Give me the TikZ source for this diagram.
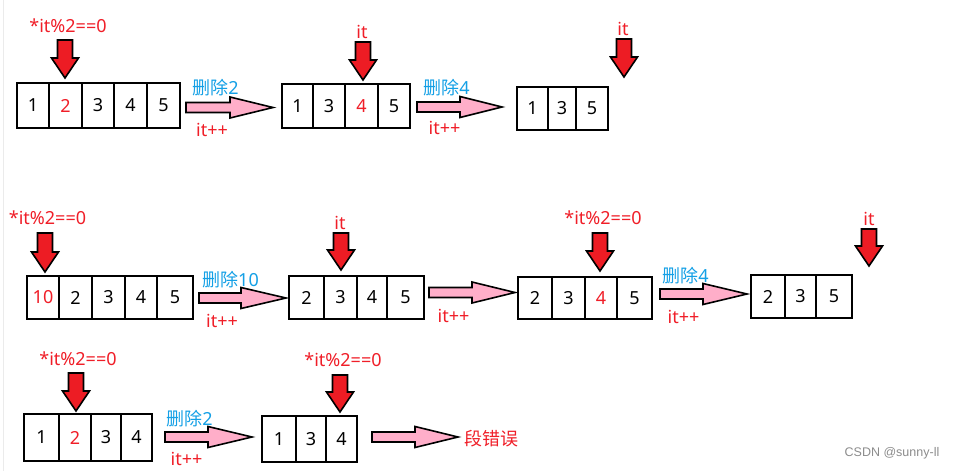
\documentclass[tikz,border=0pt]{standalone}
\usepackage{fontspec}
\setmainfont{Noto Sans}
\newfontfamily\cjk{Noto Sans CJK SC}
\newfontfamily\wmfont{Liberation Sans}
\usetikzlibrary{fit}
\definecolor{redc}{RGB}{237,28,36}
\definecolor{txtred}{RGB}{240,30,40}
\definecolor{bluec}{RGB}{20,160,230}
\definecolor{pinkc}{RGB}{255,174,201}
\tikzset{
  cellbox/.style={draw=black, line width=1.8pt, inner sep=0pt, font=\fontsize{18}{20}\selectfont},
  redarr/.style={draw=black, line width=1.6pt, fill=redc, line join=miter},
  pinkarr/.style={draw=black, line width=1.6pt, fill=pinkc, line join=miter},
  redlbl/.style={text=txtred, inner sep=0pt, font=\fontsize{18}{20}\selectfont},
  bluelbl/.style={text=bluec, inner sep=0pt, font=\fontsize{18}{20}\selectfont},
}
\newcommand\cellrow[4]{%
  \foreach \xl/\xr/\v [count=\i] in {#4} {
    \node[cellbox, fit={(\xl,#2)(\xr,#3)}] (#1-\i) {};
    \node[font=\fontsize{18}{20}\selectfont, inner sep=0pt] at (#1-\i.center) {\v};
  }%
}
\newcommand\downarr[4]{% name, tip x, top y, tip y
  \draw[redarr] (#2-7.5,#3) -- (#2+7.5,#3) -- (#2+7.5,#4-20) -- (#2+13.5,#4-20)
    -- (#2,#4) -- (#2-13.5,#4-20) -- (#2-7.5,#4-20) -- cycle;
  \coordinate (#1) at (#2,#4);
}
\newcommand\rightarr[5]{% name, x0, xhead, xtip, yc
  \draw[pinkarr] (#2,#5-5) -- (#3,#5-5) -- (#3,#5-10.5) -- (#4,#5)
    -- (#3,#5+10.5) -- (#3,#5+5) -- (#2,#5+5) -- cycle;
  \coordinate (#1) at (#4,#5);
}
\begin{document}
\begin{tikzpicture}[x=1pt,y=-1pt]
\useasboundingbox (0,0) rectangle (956,471);
\fill[white] (0,0) rectangle (956,471);
\draw[black!8, line width=1pt] (3,0) -- (3,471);

% ---------- Row 1 ----------
\node[redlbl] (l1) at (68,26) {*it\%2==0};
\downarr{d1}{65}{40}{78}
\cellrow{a}{83}{128}{17/49/1, 49/82/{\textcolor{txtred}{2}}, 82/114/3, 114/147/4, 147/180/5}
\rightarr{p1}{186}{230}{273}{107.5}
\node[bluelbl] (b1) at (215.5,88) {{\cjk 删除}2};
\node[redlbl] (i1) at (212,130) {it++};

\node[redlbl] (l2) at (362,32) {it};
\downarr{d2}{363}{42}{80}
\cellrow{b}{84}{128}{282/313/1, 313/345/3, 345/378/{\textcolor{txtred}{4}}, 378/410/5}
\rightarr{p2}{417}{460}{502}{107}
\node[bluelbl] (b2) at (446.5,88) {{\cjk 删除}4};
\node[redlbl] (i2) at (444.5,128) {it++};

\cellrow{c}{87}{130}{517/548/1, 548/576/3, 576/608/5}
\node[redlbl] (l3) at (623,29) {it};
\downarr{d3}{624}{39}{77}

% ---------- Row 2 ----------
\node[redlbl] (l4) at (47.5,218) {*it\%2==0};
\downarr{d4}{45}{233}{272}
\cellrow{d}{276}{319}{27/59/{\textcolor{txtred}{10}}, 59/92/2, 92/125/3, 125/157/4, 157/193/5}
\rightarr{p3}{199}{241}{286}{298}
\node[bluelbl] (b3) at (230.5,280) {{\cjk 删除}10};
\node[redlbl] (i3) at (222,321) {it++};

\node[redlbl] (l5) at (340,223) {it};
\downarr{d5}{341}{233}{270}
\cellrow{e}{276}{319}{289/324/2, 324/357/3, 357/387/4, 387/424/5}
\rightarr{p4}{429}{472}{515}{292.5}
\node[redlbl] (i4) at (453.5,316) {it++};

\node[redlbl] (l6) at (603,218) {*it\%2==0};
\downarr{d6}{600}{233}{271}
\cellrow{f}{277}{319}{518/552/2, 552/585/3, 585/617/{\textcolor{txtred}{4}}, 617/652/5}
\rightarr{p5}{660}{703}{747}{294}
\node[bluelbl] (b4) at (685.5,276) {{\cjk 删除}4};
\node[redlbl] (i5) at (683.5,317) {it++};

\cellrow{g}{275}{318}{751/785/2, 785/816/3, 816/852/5}
\node[redlbl] (l7) at (869,219) {it};
\downarr{d7}{869}{229}{266}

% ---------- Row 3 ----------
\node[redlbl] (l8) at (78,359) {*it\%2==0};
\downarr{d8}{76}{373}{411}
\cellrow{h}{414}{461}{24/59/1, 59/91/{\textcolor{txtred}{2}}, 91/121/3, 121/152/4}
\rightarr{p6}{165}{208}{252}{437}
\node[bluelbl] (b5) at (189.5,419) {{\cjk 删除}2};
\node[redlbl] (i6) at (186.5,459) {it++};

\node[redlbl] (l9) at (343,360) {*it\%2==0};
\downarr{d9}{340}{375}{412}
\cellrow{k}{416}{462}{262/296/1, 296/326/3, 326/357/4}
\rightarr{p7}{372}{415}{458}{437}
\node[redlbl] (err) at (491.5,439) {\cjk 段错误};

\node[text=black!45, inner sep=0pt, font=\wmfont\fontsize{12.5}{14}\selectfont] (wm) at (892,453) {CSDN @sunny-ll};
\end{tikzpicture}
\end{document}
